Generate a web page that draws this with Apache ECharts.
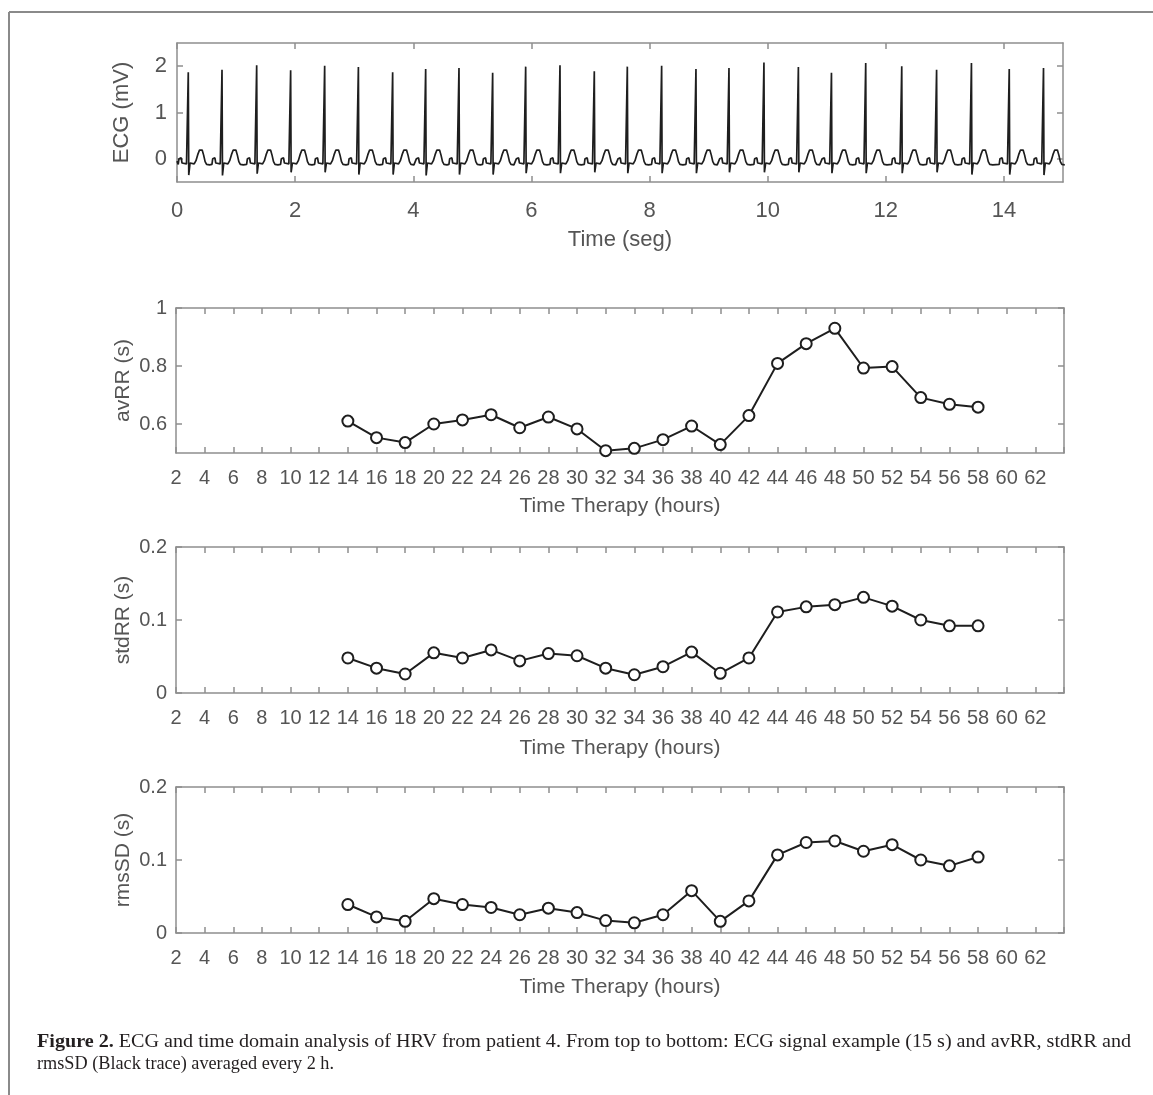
<!DOCTYPE html>
<html><head><meta charset="utf-8">
<script src="https://cdn.jsdelivr.net/npm/echarts@6/dist/echarts.min.js"></script>
<style>html,body{margin:0;padding:0;background:#fff}#c{width:1153px;height:1095px}</style>
</head><body><div id="c"></div>
<script>
// ---- HRV data (averaged every 2 h) ----
const hours = [14,16,18,20,22,24,26,28,30,32,34,36,38,40,42,44,46,48,50,52,54,56,58];
const avRR  = [0.610,0.553,0.536,0.600,0.614,0.632,0.587,0.624,0.583,0.508,0.516,0.546,0.593,0.529,0.629,0.809,0.877,0.930,0.793,0.798,0.691,0.668,0.658];
const stdRR = [0.048,0.034,0.026,0.055,0.048,0.059,0.044,0.054,0.051,0.034,0.025,0.036,0.056,0.027,0.048,0.111,0.118,0.121,0.131,0.119,0.100,0.092,0.092];
const rmsSD = [0.039,0.022,0.016,0.047,0.039,0.035,0.025,0.034,0.028,0.017,0.014,0.025,0.058,0.016,0.044,0.107,0.124,0.126,0.112,0.121,0.100,0.092,0.104];
const hourTickLabels = [2,4,6,8,10,12,14,16,18,20,22,24,26,28,30,32,34,36,38,40,42,44,46,48,50,52,54,56,58,60,62];

// ---- ECG example (15 s) ----
const ecgBeatTimes = [0.191,0.762,1.349,1.924,2.500,3.071,3.651,4.210,4.774,5.344,5.903,6.484,7.065,7.624,8.205,8.786,9.345,9.937,10.52,11.08,11.66,12.27,12.86,13.45,14.09,14.67];
const ecgRPeaks    = [1.87,1.92,2.02,1.91,2.01,1.98,1.87,1.94,1.96,1.86,1.99,2.02,1.89,1.99,2.01,1.94,1.96,2.08,1.98,1.86,2.07,2.00,1.92,2.07,1.94,1.96];
const ecgSTroughs  = [-0.35,-0.36,-0.32,-0.29,-0.29,-0.34,-0.34,-0.36,-0.34,-0.34,-0.31,-0.31,-0.29,-0.31,-0.31,-0.31,-0.29,-0.29,-0.29,-0.31,-0.31,-0.31,-0.29,-0.34,-0.34,-0.35];
// one typical beat: time offset to R peak (s) and value (mV); R and S filled per beat
const ecgShapeOffsets = [-0.17,-0.158,-0.12,-0.106,-0.09,-0.03,-0.008,0,0.008,0.03,0.10,0.13,0.16,0.19,0.21,0.235,0.26,0.285,0.31,0.36];
const ecgShapeValues  = [-0.12,0.0,0.02,-0.09,-0.11,-0.11,-0.15,'R','S',-0.09,-0.11,-0.04,0.09,0.19,0.22,0.19,0.08,-0.06,-0.12,-0.13];
const ecgStart = [0, -0.05];
const ecgXTicks = [0,2,4,6,8,10,12,14];
const ecgYTicks = [0,1,2];

const ecgData = [ecgStart];
ecgBeatTimes.forEach((t, b) => {
  ecgShapeOffsets.forEach((o, k) => {
    let v = ecgShapeValues[k];
    if (v === 'R') v = ecgRPeaks[b];
    else if (v === 'S') v = ecgSTroughs[b];
    ecgData.push([+(t + o).toFixed(4), v]);
  });
});

const FONT = 'Liberation Sans, Arial, Helvetica, sans-serif';
const TXT = '#555555';
const AX = '#8e8e8e';
const LINE = '#1e1e1e';

const axisLine = {show: true, onZero: false, lineStyle: {color: AX, width: 1.5}};
const tickStyle = {color: AX, width: 1.5};

const grids = [
  {left: 177, top: 43, width: 886, height: 139},
  {left: 176, top: 308, width: 888, height: 145},
  {left: 176, top: 547, width: 888, height: 146},
  {left: 176, top: 787, width: 888, height: 146}
];

const xAxes = [], yAxes = [];
// ECG axes
xAxes.push({gridIndex: 0, type: 'value', position: 'bottom', min: 0, max: 15,
  axisLine, splitLine: {show: false},
  axisTick: {inside: true, length: 6, lineStyle: tickStyle, customValues: ecgXTicks},
  axisLabel: {customValues: ecgXTicks, fontSize: 22, color: TXT, fontFamily: FONT, margin: 18},
  name: 'Time (seg)', nameLocation: 'middle', nameGap: 47, nameMoveOverlap: false,
  nameTextStyle: {fontSize: 22, color: TXT, fontFamily: FONT}});
xAxes.push({gridIndex: 0, type: 'value', position: 'top', min: 0, max: 15,
  axisLine, splitLine: {show: false},
  axisTick: {inside: true, length: 6, lineStyle: tickStyle, customValues: ecgXTicks},
  axisLabel: {show: false}});
yAxes.push({gridIndex: 0, type: 'value', position: 'left', min: -0.5, max: 2.5,
  axisLine, splitLine: {show: false},
  axisTick: {inside: true, length: 6, lineStyle: tickStyle, customValues: ecgYTicks},
  axisLabel: {customValues: ecgYTicks, fontSize: 22, color: TXT, fontFamily: FONT, margin: 10},
  name: 'ECG (mV)', nameLocation: 'middle', nameGap: 44, nameRotate: 90, nameMoveOverlap: false,
  nameTextStyle: {fontSize: 22, color: TXT, fontFamily: FONT}});
yAxes.push({gridIndex: 0, type: 'value', position: 'right', min: -0.5, max: 2.5,
  axisLine, splitLine: {show: false},
  axisTick: {inside: true, length: 6, lineStyle: tickStyle, customValues: ecgYTicks},
  axisLabel: {show: false}});

const hrvPanels = [
  {name: 'avRR (s)', min: 0.5, max: 1, ticks: [0.6, 0.8, 1], data: avRR, nameGap: 43},
  {name: 'stdRR (s)', min: 0, max: 0.2, ticks: [0, 0.1, 0.2], data: stdRR, nameGap: 45},
  {name: 'rmsSD (s)', min: 0, max: 0.2, ticks: [0, 0.1, 0.2], data: rmsSD, nameGap: 44}
];
const hourSet = new Set(hourTickLabels);
hrvPanels.forEach((p, i) => {
  const g = i + 1;
  xAxes.push({gridIndex: g, type: 'value', position: 'bottom', min: 2, max: 64, interval: 2,
    axisLine, splitLine: {show: false},
    axisTick: {inside: true, length: 6, lineStyle: tickStyle},
    axisLabel: {fontSize: 20, color: TXT, fontFamily: FONT, margin: 15, showMinLabel: true, hideOverlap: false,
      formatter: v => hourSet.has(v) ? String(v) : ''},
    name: 'Time Therapy (hours)', nameLocation: 'middle', nameGap: p.nameGap, nameMoveOverlap: false,
    nameTextStyle: {fontSize: 21, color: TXT, fontFamily: FONT}});
  xAxes.push({gridIndex: g, type: 'value', position: 'top', min: 2, max: 64, interval: 2,
    axisLine, splitLine: {show: false},
    axisTick: {inside: true, length: 6, lineStyle: tickStyle},
    axisLabel: {show: false}});
  yAxes.push({gridIndex: g, type: 'value', position: 'left', min: p.min, max: p.max,
    axisLine, splitLine: {show: false},
    axisTick: {inside: true, length: 6, lineStyle: tickStyle, customValues: p.ticks},
    axisLabel: {customValues: p.ticks, fontSize: 20, color: TXT, fontFamily: FONT, margin: 9,
      formatter: v => String(+(+v).toFixed(2))},
    name: p.name, nameLocation: 'middle', nameGap: 42, nameRotate: 90, nameMoveOverlap: false,
    nameTextStyle: {fontSize: 21, color: TXT, fontFamily: FONT}});
  yAxes.push({gridIndex: g, type: 'value', position: 'right', min: p.min, max: p.max,
    axisLine, splitLine: {show: false},
    axisTick: {inside: true, length: 6, lineStyle: tickStyle, customValues: p.ticks},
    axisLabel: {show: false}});
});

const series = [{
  type: 'line', xAxisIndex: 0, yAxisIndex: 0, data: ecgData, showSymbol: false, symbol: 'none',
  lineStyle: {color: LINE, width: 1.7}, clip: true, silent: true
}];
hrvPanels.forEach((p, i) => {
  series.push({
    type: 'line', xAxisIndex: 2 * (i + 1), yAxisIndex: 2 * (i + 1),
    data: hours.map((h, k) => [h, p.data[k]]),
    symbol: 'circle', symbolSize: 11, showSymbol: true,
    itemStyle: {color: '#ffffff', borderColor: LINE, borderWidth: 2},
    lineStyle: {color: LINE, width: 2}, silent: true
  });
});

// caption sizing (condensed serif look)
const capBold = 'Figure 2.';
const capRest1 = ' ECG and time domain analysis of HRV from patient 4. From top to bottom: ECG signal example (15 s) and avRR, stdRR and';
const capLine2 = 'rmsSD (Black trace) averaged every 2 h.';
const CAPFONT = 'Liberation Serif, Times New Roman, serif';
const CAPSIZE = 18;
const cv = document.createElement('canvas').getContext('2d');
cv.font = 'bold ' + CAPSIZE + 'px ' + CAPFONT;
const wB = cv.measureText(capBold).width;
cv.font = CAPSIZE + 'px ' + CAPFONT;
const wR = cv.measureText(capRest1).width;
const w2 = cv.measureText(capLine2).width;
const capScale1 = 1094 / (wB + wR);
const capScale2 = 297 / w2;

const option = {
  animation: false,
  backgroundColor: '#ffffff',
  grid: grids,
  xAxis: xAxes,
  yAxis: yAxes,
  series,
  graphic: [
    {type: 'line', shape: {x1: 9, y1: 12, x2: 1153, y2: 12}, style: {stroke: '#8a8a8a', lineWidth: 2}, silent: true},
    {type: 'line', shape: {x1: 9, y1: 12, x2: 9, y2: 1095}, style: {stroke: '#8a8a8a', lineWidth: 2}, silent: true},
    {type: 'text', x: 37, y: 1042, scaleX: capScale1, originX: 0, originY: 0,
      style: {text: '{b|' + capBold + '}' + capRest1, font: CAPSIZE + 'px ' + CAPFONT, fill: '#231f20',
        verticalAlign: 'middle', rich: {b: {fontWeight: 'bold', fontSize: CAPSIZE, fontFamily: CAPFONT, fill: '#231f20'}}}, silent: true},
    {type: 'text', x: 37, y: 1064, scaleX: capScale2, originX: 0, originY: 0,
      style: {text: capLine2, font: CAPSIZE + 'px ' + CAPFONT, fill: '#231f20', verticalAlign: 'middle'}, silent: true}
  ]
};

const chart = echarts.init(document.getElementById('c'), null, {renderer: 'canvas'});
chart.setOption(option);
</script>
</body></html>
